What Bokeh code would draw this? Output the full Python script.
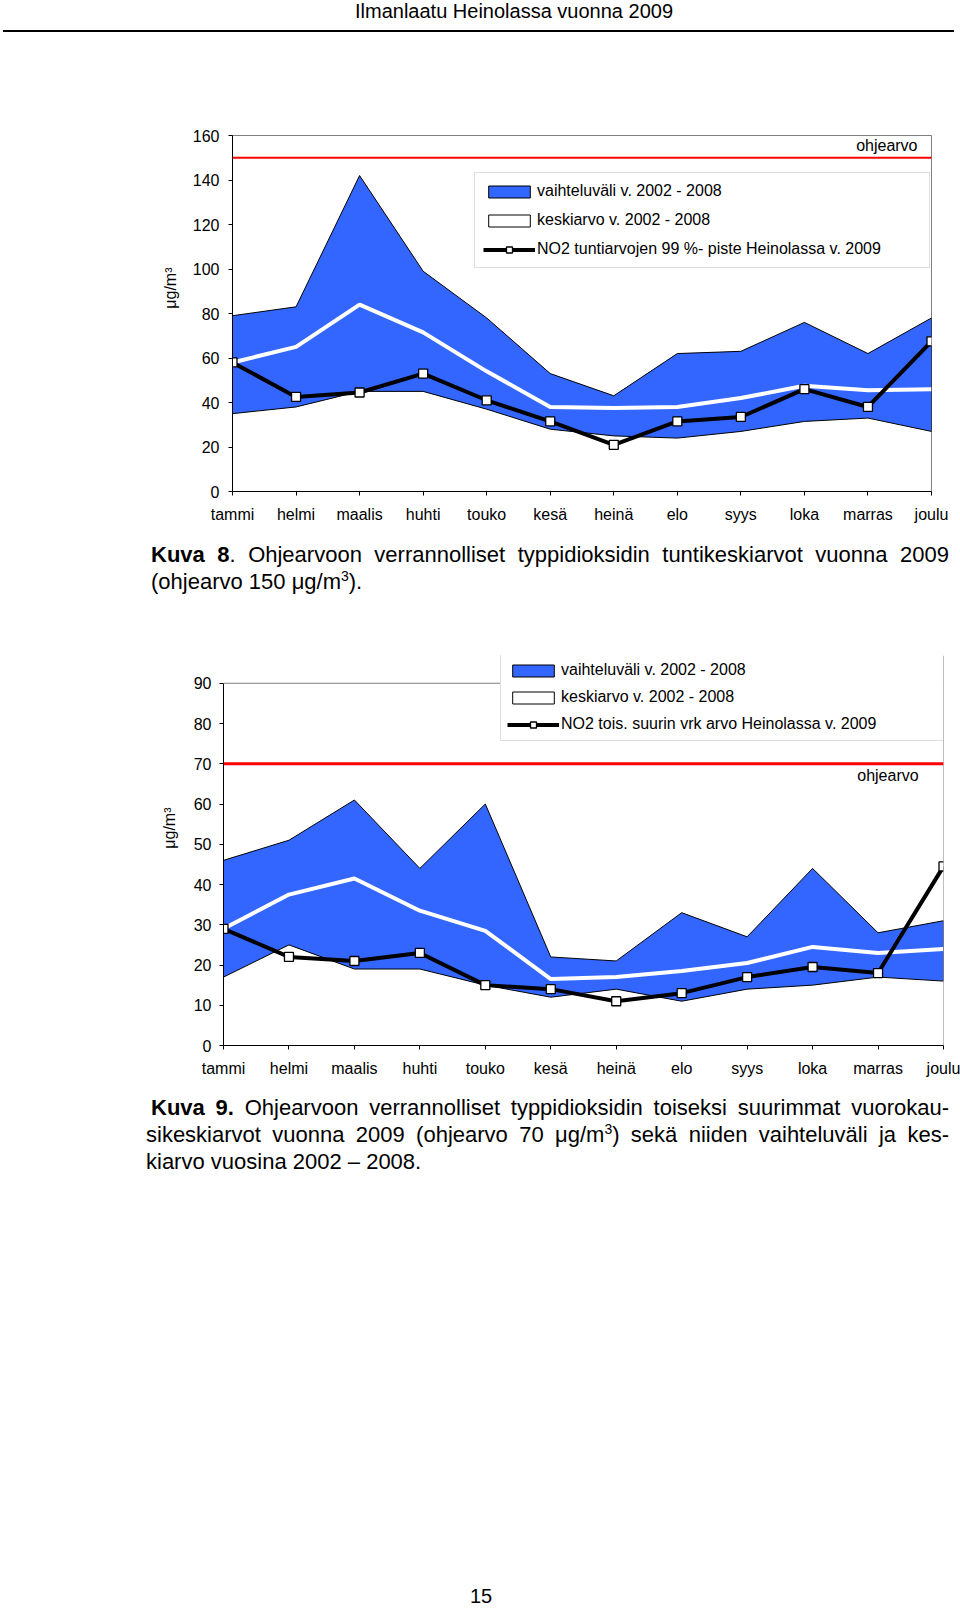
from bokeh.plotting import figure
from bokeh.models import (Range1d, FixedTicker, SingleIntervalTicker, Span, Label,
                          Legend, LegendItem, Div, Title)
from bokeh.layouts import column
from bokeh.embed import file_html
from bokeh.resources import INLINE

# ---------------- data ----------------
months = ["tammi", "helmi", "maalis", "huhti", "touko", "kesä",
          "heinä", "elo", "syys", "loka", "marras", "joulu"]

# Kuva 8: hourly values (µg/m3)
k8_upper = [79, 83, 142, 99, 78, 53, 43, 62, 63, 76, 62, 78]
k8_lower = [35, 38, 45, 45, 37, 28, 25, 24, 27, 31.5, 33, 27]
k8_mean = [58, 65, 84, 71.5, 54, 38, 37.5, 38, 42, 47.5, 45.5, 46]
k8_2009 = [58, 42.5, 44.5, 53, 41, 31.5, 21, 31.5, 33.5, 46, 38, 67.5]
k8_limit = 150
k8_ymax = 160

# Kuva 9: second highest daily values (µg/m3)
k9_upper = [46, 51, 61, 44, 60, 22, 21, 33, 27, 44, 28, 31]
k9_lower = [17, 25, 19, 19, 15, 12, 14, 11, 14, 15, 17, 16]
k9_mean = [29, 37.5, 41.5, 33.5, 28.5, 16.5, 17, 18.5, 20.5, 24.5, 23, 24]
k9_2009 = [29, 22, 21, 23, 15, 14, 11, 13, 17, 19.5, 18, 44.5]
k9_limit = 70
k9_ymax = 90

k8_labels = ["vaihteluväli v. 2002 - 2008", "keskiarvo v. 2002 - 2008",
             "NO2 tuntiarvojen 99 %- piste Heinolassa v. 2009"]
k9_labels = ["vaihteluväli v. 2002 - 2008", "keskiarvo v. 2002 - 2008",
             "NO2 tois. suurin vrk arvo Heinolassa v. 2009"]

BLUE = "#3366FF"
FONT = "Liberation Sans"


def make_chart(upper, lower, mean, obs, limit, ymax, step, labels, *,
               height, bl, br, bt, bb, tick_standoff, leg_loc, leg_pad,
               leg_spacing, leg_label_width, ylab_offset, ylab_standoff,
               ohje_pos, limit_width, range_top=None):
    xs = list(range(len(months)))
    top = range_top if range_top is not None else ymax
    p = figure(width=960, height=height, x_range=Range1d(0, len(months) - 1),
               y_range=Range1d(0, top), toolbar_location=None,
               output_backend="svg", title=None,
               min_border_left=bl, min_border_right=br,
               min_border_top=bt, min_border_bottom=bb)
    p.frame_align = False
    p.grid.visible = False
    p.background_fill_color = "white"
    p.border_fill_color = "white"
    if range_top is None:
        p.outline_line_color = "#808080"
        p.outline_line_width = 1
    else:
        p.outline_line_color = None
        p.add_layout(Span(location=ymax, dimension="width",
                          line_color="#808080", line_width=1))
        p.add_layout(Span(location=len(months) - 1, dimension="height",
                          line_color="#808080", line_width=1))

    # axes
    p.xaxis.ticker = FixedTicker(ticks=xs, minor_ticks=[])
    p.xaxis.major_label_overrides = {i: m for i, m in enumerate(months)}
    p.yaxis.ticker = SingleIntervalTicker(interval=step, num_minor_ticks=0)
    p.yaxis.bounds = (0, ymax)
    for ax in (p.xaxis, p.yaxis):
        ax.axis_line_color = "black"
        ax.axis_line_width = 1
        ax.major_tick_line_color = "black"
        ax.major_tick_in = 0
        ax.major_tick_out = 4
        ax.minor_tick_line_color = None
        ax.major_label_text_font = FONT
        ax.major_label_text_font_size = "16px"
        ax.major_label_text_color = "black"
    p.xaxis.major_label_standoff = 10
    p.yaxis.major_label_standoff = tick_standoff

    # range band, mean, guideline, 2009 values
    band = p.patch(x=xs + xs[::-1], y=upper + lower[::-1], fill_color=BLUE,
                   line_color="black", line_width=1)
    p.line(xs, mean, line_color="white", line_width=4)
    mean_key = p.patch(x=[0, 0], y=[0, 0], fill_color="white",
                       line_color="black", line_width=1)
    p.add_layout(Span(location=limit, dimension="width", line_color="#FF0000",
                      line_width=limit_width))
    obs_line = p.line(xs, obs, line_color="black", line_width=4)
    obs_pts = p.scatter(xs, obs, marker="square", size=9, fill_color="white",
                        line_color="black", line_width=1.3)

    legend = Legend(
        items=[LegendItem(label=labels[0], renderers=[band]),
               LegendItem(label=labels[1], renderers=[mean_key]),
               LegendItem(label=labels[2], renderers=[obs_line, obs_pts])],
        location=leg_loc, orientation="vertical", glyph_width=52,
        glyph_height=15, label_height=20, label_width=leg_label_width,
        spacing=leg_spacing, padding=leg_pad, margin=0, label_standoff=2,
        border_line_color="#c0c0c0", border_line_width=1,
        background_fill_color="white", background_fill_alpha=1,
        label_text_font=FONT, label_text_font_size="16px",
        label_text_color="black")
    p.add_layout(legend, "center")

    p.add_layout(Title(text="μg/m³", align="right", offset=ylab_offset,
                       text_font=FONT, text_font_size="16px",
                       text_font_style="normal", text_color="black",
                       standoff=ylab_standoff), "left")
    p.add_layout(Label(x=ohje_pos[0], y=ohje_pos[1], text="ohjearvo",
                       text_align="right", text_baseline="middle",
                       text_font=FONT, text_font_size="16px",
                       text_color="black"))
    return p


p1 = make_chart(k8_upper, k8_lower, k8_mean, k8_2009, k8_limit, k8_ymax, 20,
                k8_labels, height=500, bl=232, br=29, bt=95, bb=49,
                tick_standoff=9, leg_loc=(242, 223), leg_pad=8, leg_spacing=9,
                leg_label_width=384, ylab_offset=132, ylab_standoff=21,
                ohje_pos=(10.78, 155.5), limit_width=2)

p2 = make_chart(k9_upper, k9_lower, k9_mean, k9_2009, k9_limit, k9_ymax, 10,
                k9_labels, height=490, bl=223, br=17, bt=55, bb=45,
                tick_standoff=8, leg_loc=(277, 304), leg_pad=6, leg_spacing=7,
                leg_label_width=378, ylab_offset=152, ylab_standoff=26,
                ohje_pos=(10.62, 67.2), limit_width=3, range_top=96.9)

CSS_FONT = "font-family:'Liberation Sans',Arial,sans-serif;color:#000;"

header = Div(width=960, height=40, margin=0, text=(
    f'<div style="position:relative;width:960px;height:40px;{CSS_FONT}">'
    '<div style="position:absolute;left:355px;top:0px;font-size:20px;'
    'line-height:23px;white-space:nowrap;">Ilmanlaatu Heinolassa vuonna 2009</div>'
    '<div style="position:absolute;left:3px;top:30px;width:951px;height:0;'
    'border-top:2px solid #000;"></div></div>'))

SUP = '<sup style="font-size:14px;line-height:0;">3</sup>'
JL = 'text-align:justify;text-align-last:justify;white-space:nowrap;'

cap1 = Div(width=960, height=60, margin=0, text=(
    f'<div style="position:relative;width:960px;height:60px;{CSS_FONT}'
    'font-size:22px;line-height:27px;">'
    '<div style="position:absolute;left:151px;top:1px;width:798px;">'
    f'<div style="{JL}"><b>Kuva 8</b>. Ohjearvoon verrannolliset typpidioksidin '
    'tuntikeskiarvot vuonna 2009</div>'
    f'<div style="white-space:nowrap;">(ohjearvo 150 μg/m{SUP}).</div>'
    '</div></div>'))

cap2 = Div(width=960, height=90, margin=0, text=(
    f'<div style="position:relative;width:960px;height:90px;{CSS_FONT}'
    'font-size:22px;line-height:27px;">'
    '<div style="position:absolute;left:146px;top:4px;width:803px;">'
    f'<div style="{JL}padding-left:5px;"><b>Kuva 9.</b> Ohjearvoon verrannolliset '
    'typpidioksidin toiseksi suurimmat vuorokau-</div>'
    f'<div style="{JL}">sikeskiarvot vuonna 2009 (ohjearvo 70 μg/m{SUP}) sekä '
    'niiden vaihteluväli ja kes-</div>'
    '<div style="white-space:nowrap;">kiarvo vuosina 2002 – 2008.</div>'
    '</div></div>'))

pagenum = Div(width=960, height=428, margin=0, text=(
    f'<div style="position:relative;width:960px;height:428px;{CSS_FONT}">'
    '<div style="position:absolute;left:461px;top:406px;width:40px;'
    'text-align:center;font-size:20px;line-height:20px;">15</div></div>'))

layout = column(header, p1, cap1, p2, cap2, pagenum, spacing=0)

open("out.html", "w").write(file_html(layout, INLINE))
